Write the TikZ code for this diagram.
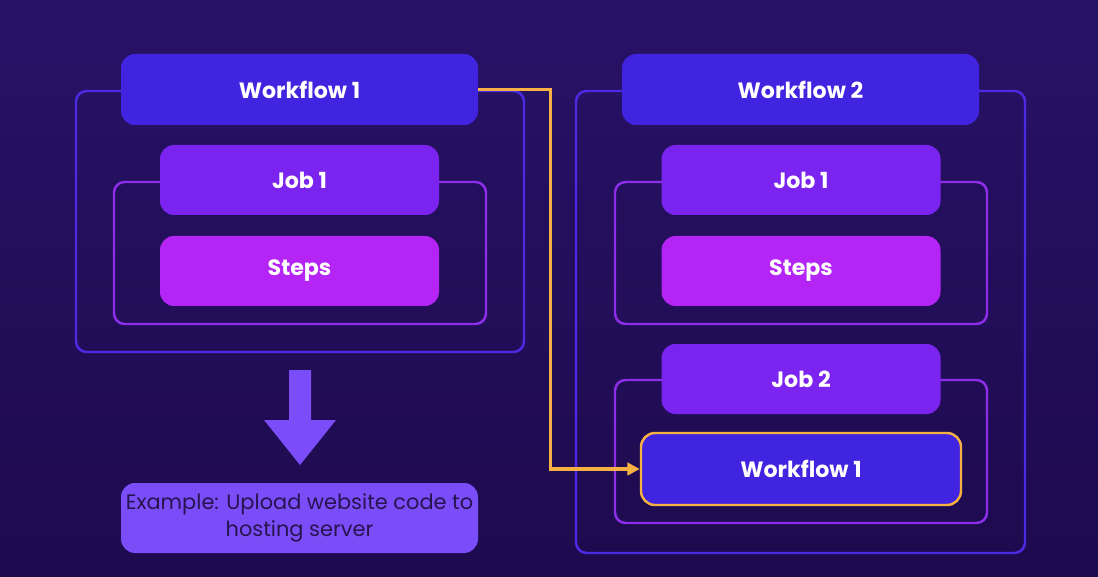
\documentclass[tikz,border=0pt]{standalone}
\usepackage{fontspec}
\setmainfont{Poppins}
\usetikzlibrary{arrows.meta}
\definecolor{bgtop}{HTML}{271266}
\definecolor{bgbot}{HTML}{1E0A4E}
\definecolor{wfblue}{HTML}{4124DF}
\definecolor{frameblue}{HTML}{4A2AE2}
\definecolor{jobpurple}{HTML}{7C24EF}
\definecolor{framepurple}{HTML}{8C2DEA}
\definecolor{stepmag}{HTML}{B424F4}
\definecolor{exviolet}{HTML}{7B4DF8}
\definecolor{extext}{HTML}{26144F}
\definecolor{orangeline}{HTML}{F6B043}
\tikzset{
  x=0.02cm, y=-0.02cm,
  box/.style={rounded corners=8pt, minimum width=#1*0.02cm, inner sep=0pt, text=white,
              font=\fontsize{12.6}{15}\selectfont\bfseries},
  hdr/.style={box=357, minimum height=71*0.02cm},
  jobbox/.style={box=279, minimum height=70*0.02cm},
  frameA/.style={draw=frameblue, line width=1.4pt, rounded corners=6pt},
  frameB/.style={draw=framepurple, line width=1.4pt, rounded corners=6pt},
  link/.style={draw=orangeline, line width=1.8pt, -{Triangle[length=7pt,width=7pt]}}
}
\begin{document}
\begin{tikzpicture}
\shade[top color=bgtop, bottom color=bgbot] (0,0) rectangle (1098,577);
\useasboundingbox (0,0) rectangle (1098,577);
% frames
\draw[frameA] (76,91) rectangle (524,352);
\draw[frameB] (114,182) rectangle (486,324);
\draw[frameA] (576,91) rectangle (1025,553);
\draw[frameB] (615,182) rectangle (987,324);
\draw[frameB] (615,380) rectangle (987,523);
% left
\node[hdr, fill=wfblue] (wf1) at (299.5,89.5) {Workflow 1};
\node[jobbox, fill=jobpurple] (job1a) at (299.5,180) {Job 1};
\node[jobbox, fill=stepmag] (stepsa) at (299.5,271) {Steps};
\fill[exviolet] (289,370) -- (311,370) -- (311,420) -- (336,420) -- (300,465) -- (264,420) -- (289,420) -- cycle;
\node[box=357, minimum height=70*0.02cm, fill=exviolet, text=extext, align=center,
      font=\fontsize{11.9}{15.5}\selectfont] (ex) at (299.5,518)
      {Example: Upload website code to\\hosting server};
% right
\node[hdr, fill=wfblue] (wf2) at (800.5,89.5) {Workflow 2};
\node[jobbox, fill=jobpurple] (job1b) at (801,180) {Job 1};
\node[jobbox, fill=stepmag] (stepsb) at (801,271) {Steps};
\node[jobbox, fill=jobpurple] (job2) at (801,379) {Job 2};
\node[box=320, minimum height=72*0.02cm, fill=wfblue, draw=orangeline, line width=1.4pt] (wf1b) at (801,469) {Workflow 1};
% connector
\draw[link] (wf1.east) -- ++(72,0) |- (wf1b.west);
\end{tikzpicture}
\end{document}
